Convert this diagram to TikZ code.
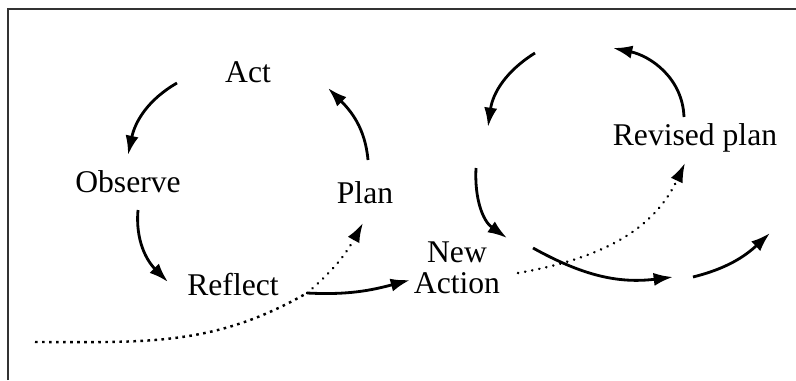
\documentclass[tikz,border=0pt]{standalone}
\usepackage{fontspec}
\setmainfont{Liberation Serif}
\usetikzlibrary{arrows.meta}
\definecolor{BLACK}{HTML}{000000}
\definecolor{FRAME}{HTML}{333333}

\begin{document}
\begin{tikzpicture}[x=0.02cm, y=0.02cm,
    lbl/.style={BLACK, font=\fontsize{18}{17.5}\selectfont, inner sep=0pt},
    loop/.style={BLACK, line width=1.6pt, -{Latex[length=11pt, width=7.5pt]}},
    path/.style={BLACK, line width=1.5pt, line cap=round, dash pattern=on 0.1pt off 4pt, -{Latex[length=11pt, width=7.5pt]}},
    trail/.style={BLACK, line width=1.4pt, dash pattern=on 1.5pt off 2.5pt}]
    \useasboundingbox (0,0) rectangle (796,380);
    \draw[FRAME, line width=0.8pt] (8,0) -- (8,371) -- (796,371);
    \node[lbl] (act) at (248,308) {Act};
    \node[lbl] (observe) at (128,198) {Observe};
    \node[lbl] (plan) at (365,187) {Plan};
    \node[lbl] (reflect) at (233,95) {Reflect};
    \node[lbl, align=center] (newaction) at (457,112) {New\\Action};
    \node[lbl] (revised) at (695,242) {Revised plan};
    \coordinate (a1) at (177,297);
    \coordinate (a2) at (128,225);
    \coordinate (o1) at (138,170);
    \coordinate (o2) at (168,98);
    \coordinate (p1) at (368,220);
    \coordinate (p2) at (328,292);
    \coordinate (r1) at (307,87);
    \coordinate (r2) at (410,100);
    \coordinate (r3) at (363,157);
    \coordinate (t0) at (35,38);
    \coordinate (b1) at (535,327);
    \coordinate (b2) at (488,253);
    \coordinate (c1) at (476,212);
    \coordinate (c2) at (507,142);
    \coordinate (d1) at (533,132);
    \coordinate (d2) at (673,103);
    \coordinate (e1) at (693,103);
    \coordinate (e2) at (770,147);
    \coordinate (f1) at (684,263);
    \coordinate (f2) at (613,332);
    \coordinate (n1) at (518,107);
    \coordinate (n2) at (685,217);
    \draw[loop] (a1) to[out=210, in=78] (a2);
    \draw[loop] (o1) to[out=265, in=135] (o2);
    \draw[loop] (p1) to[out=95, in=315] (p2);
    \draw[loop] (r1) to[out=-3, in=195] (r2);
    \draw[path] (r1) to[out=40, in=241] (r3);
    \draw[trail] (t0) to[out=0, in=210] (r1);
    \draw[loop] (b1) to[out=212, in=82] (b2);
    \draw[loop] (c1) to[out=267, in=145] (c2);
    \draw[loop] (d1) to[out=-29, in=187] (d2);
    \draw[loop] (e1) to[out=14, in=223] (e2);
    \draw[loop] (f1) to[out=92, in=348] (f2);
    \draw[path] (n1) to[out=10, in=245] (n2);
\end{tikzpicture}
\end{document}
